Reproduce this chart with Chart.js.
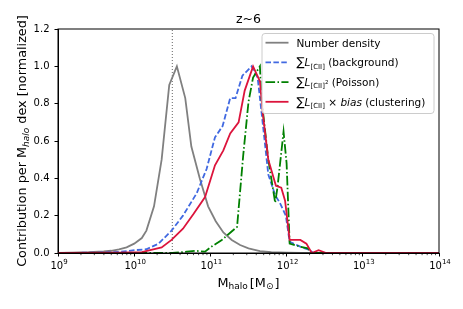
<!DOCTYPE html>
<html>
<head>
<meta charset="utf-8">
<script src="https://cdn.jsdelivr.net/npm/chart.js@4"></script>
<style>
  body { margin: 0; background: #fff; }
  canvas { display: block; }
</style>
</head>
<body>
<canvas id="chart" width="463" height="309"></canvas>
<script>
// ===== DATA (x = log10 Mhalo) =====
const numDensX = [9.0, 9.2, 9.4, 9.6, 9.7, 9.8, 9.9, 10.0, 10.1, 10.16, 10.26, 10.36, 10.46, 10.56, 10.67, 10.75, 10.86, 10.97, 11.07, 11.17, 11.28, 11.39, 11.5, 11.65, 11.8, 12.0, 12.2, 14.0];
const numDensY = [0.001, 0.002, 0.004, 0.008, 0.012, 0.02, 0.03, 0.05, 0.08, 0.12, 0.25, 0.5, 0.9, 1.0, 0.83, 0.57, 0.4, 0.25, 0.17, 0.11, 0.07, 0.043, 0.025, 0.01, 0.005, 0.002, 0, 0];

const bgX = [9.0, 9.5, 9.8, 10.03, 10.16, 10.32, 10.49, 10.64, 10.82, 10.95, 11.06, 11.16, 11.26, 11.33, 11.42, 11.54, 11.62, 11.68, 11.76, 11.85, 11.91, 11.99, 12.04, 12.18, 12.3, 12.35, 14.0];
const bgY = [0, 0.002, 0.006, 0.016, 0.02, 0.05, 0.12, 0.2, 0.32, 0.45, 0.62, 0.68, 0.83, 0.83, 0.95, 1.0, 0.94, 0.72, 0.42, 0.31, 0.27, 0.2, 0.06, 0.034, 0.016, 0, 0];

const poisX = [9.0, 10.5, 10.69, 10.8, 10.93, 11.0, 11.15, 11.35, 11.39, 11.43, 11.5, 11.56, 11.65, 11.67, 11.76, 11.85, 11.88, 11.96, 12.0, 12.04, 12.18, 12.28, 12.33, 14.0];
const poisY = [0, 0, 0.007, 0.012, 0.007, 0.03, 0.07, 0.14, 0.33, 0.52, 0.81, 0.94, 1.0, 0.83, 0.5, 0.27, 0.35, 0.65, 0.48, 0.05, 0.034, 0.025, 0, 0];

const clusX = [9.0, 9.8, 10.1, 10.36, 10.49, 10.64, 10.78, 10.93, 11.06, 11.17, 11.26, 11.37, 11.45, 11.56, 11.65, 11.69, 11.76, 11.86, 11.93, 11.98, 12.04, 12.18, 12.26, 12.33, 12.42, 12.52, 14.0];
const clusY = [0, 0.002, 0.005, 0.03, 0.07, 0.13, 0.21, 0.3, 0.47, 0.55, 0.64, 0.7, 0.87, 1.0, 0.92, 0.74, 0.5, 0.36, 0.35, 0.28, 0.07, 0.07, 0.05, 0, 0.015, 0, 0];

const xTicks = [9, 10, 11, 12, 13, 14];
const yTicks = [0, 0.2, 0.4, 0.6, 0.8, 1.0, 1.2];
const medianLogM = 10.5;

const FONT = "'DejaVu Sans', sans-serif";
const LW = 1.8;

const toPts = (xs, ys) => xs.map((x, i) => ({ x, y: ys[i] }));

// draw a run of text pieces (sub/superscripts, italics) starting at x
function richWidth(ctx, segs) {
  let w = 0;
  segs.forEach(s => {
    ctx.font = (s.italic ? 'italic ' : '') + s.size + 'px ' + FONT;
    w += ctx.measureText(s.t).width + (s.gap || 0);
  });
  return w;
}

function drawRich(ctx, x, y, segs, align) {
  let w = richWidth(ctx, segs);
  let cx = align === 'center' ? x - w / 2 : x;
  ctx.textBaseline = 'alphabetic';
  ctx.textAlign = 'left';
  segs.forEach(s => {
    ctx.font = (s.italic ? 'italic ' : '') + s.size + 'px ' + FONT;
    ctx.fillText(s.t, cx, y + (s.dy || 0));
    cx += ctx.measureText(s.t).width + (s.gap || 0);
  });
}

const extras = {
  id: 'extras',
  beforeDatasetsDraw(chart) {
    const { ctx, chartArea: a, scales: { x } } = chart;
    const px = x.getPixelForValue(medianLogM);
    ctx.save();
    ctx.strokeStyle = '#666';
    ctx.lineWidth = 1;
    ctx.setLineDash([1, 2]);
    ctx.beginPath();
    ctx.moveTo(px, a.bottom);
    ctx.lineTo(px, a.top);
    ctx.stroke();
    ctx.restore();
  },
  afterDatasetsDraw(chart) {
    const { ctx } = chart;
    // legend
    ctx.save();
    ctx.fillStyle = 'rgba(255,255,255,0.8)';
    ctx.strokeStyle = '#cccccc';
    ctx.lineWidth = 1;
    ctx.beginPath();
    ctx.roundRect(262, 33.5, 172, 80, 3);
    ctx.fill();
    ctx.stroke();

    const rows = [
      { color: '#808080', dash: [], y: 42.7,
        segs: [{ t: 'Number density', size: 10.5 }] },
      { color: '#4169E1', dash: [5.5, 2.4], y: 62.4,
        segs: [{ t: '∑', size: 12 }, { t: 'L', size: 10.5, italic: true },
               { t: '[CII]', size: 7, dy: 2.5 }, { t: ' (background)', size: 10.5 }] },
      { color: '#008000', dash: [9.6, 2.4, 1.5, 2.4], y: 82.1,
        segs: [{ t: '∑', size: 12 }, { t: 'L', size: 10.5, italic: true },
               { t: '[CII]', size: 7, dy: 2.5 }, { t: '2', size: 5.5, dy: -1.5 },
               { t: ' (Poisson)', size: 10.5 }] },
      { color: '#DC143C', dash: [], y: 101.8,
        segs: [{ t: '∑', size: 12 }, { t: 'L', size: 10.5, italic: true },
               { t: '[CII]', size: 7, dy: 2.5 }, { t: ' × ', size: 10.5 },
               { t: 'bias', size: 10.5, italic: true }, { t: ' (clustering)', size: 10.5 }] }
    ];
    rows.forEach(r => {
      ctx.strokeStyle = r.color;
      ctx.lineWidth = LW;
      ctx.setLineDash(r.dash);
      ctx.beginPath();
      ctx.moveTo(265.5, r.y);
      ctx.lineTo(288.5, r.y);
      ctx.stroke();
      ctx.setLineDash([]);
      ctx.fillStyle = '#000';
      drawRich(ctx, 296.5, r.y + 3.8, r.segs, 'left');
    });
    ctx.restore();
  },
  afterDraw(chart) {
    const { ctx, chartArea: a, scales: { x } } = chart;
    ctx.save();
    // top and right spines
    ctx.strokeStyle = '#000';
    ctx.lineWidth = 1;
    ctx.strokeRect(a.left, a.top, a.right - a.left, a.bottom - a.top);

    // minor log ticks on x
    ctx.lineWidth = 0.7;
    ctx.beginPath();
    for (let n = 9; n < 14; n++) {
      for (let k = 2; k <= 9; k++) {
        const px = x.getPixelForValue(n + Math.log10(k));
        ctx.moveTo(px, a.bottom);
        ctx.lineTo(px, a.bottom + 2.2);
      }
    }
    ctx.stroke();

    // x tick labels as 10^n
    ctx.fillStyle = '#000';
    xTicks.forEach(n => {
      const px = x.getPixelForValue(n);
      drawRich(ctx, px + 1, 268.5, [
        { t: '10', size: 10 },
        { t: String(n), size: 7, dy: -4.5 }
      ], 'center');
    });

    // title
    ctx.font = '12.5px ' + FONT;
    ctx.textAlign = 'center';
    ctx.textBaseline = 'alphabetic';
    ctx.fillText('z~6', (a.left + a.right) / 2, 22.7);

    // x axis label
    drawRich(ctx, 248.5, 286.8, [
      { t: 'M', size: 12.8 }, { t: 'halo', size: 9, dy: 2.5, gap: 2 },
      { t: '[M', size: 12.8 }, { t: '⊙', size: 9, dy: 2.5, gap: 1 }, { t: ']', size: 12.8 }
    ], 'center');

    // y axis label
    ctx.translate(26, (a.top + a.bottom) / 2);
    ctx.rotate(-Math.PI / 2);
    drawRich(ctx, 0, 0, [
      { t: 'Contribution per M', size: 12.8 },
      { t: 'halo', size: 9, italic: true, dy: 2.5 },
      { t: ' dex [normalized]', size: 12.8 }
    ], 'center');
    ctx.restore();
  }
};

const lineDs = (label, xs, ys, color, dash, order) => ({
  label,
  data: toPts(xs, ys),
  borderColor: color,
  borderWidth: LW,
  borderDash: dash,
  pointRadius: 0,
  tension: 0,
  fill: false,
  order
});

new Chart(document.getElementById('chart'), {
  type: 'line',
  data: {
    datasets: [
      lineDs('Number density', numDensX, numDensY, '#808080', [], 4),
      lineDs('background', bgX, bgY, '#4169E1', [5.5, 2.4], 3),
      lineDs('Poisson', poisX, poisY, '#008000', [9.6, 2.4, 1.5, 2.4], 2),
      lineDs('clustering', clusX, clusY, '#DC143C', [], 1)
    ]
  },
  options: {
    responsive: false,
    animation: false,
    layout: { padding: { left: 0, right: 24, top: 29, bottom: 0 } },
    plugins: {
      legend: { display: false },
      tooltip: { enabled: false }
    },
    scales: {
      x: {
        type: 'linear',
        min: 9,
        max: 14,
        afterBuildTicks: s => { s.ticks = xTicks.map(v => ({ value: v })); },
        afterFit: s => { s.height = 56; },
        grid: { drawOnChartArea: false, tickLength: 3.5, color: '#000' },
        border: { color: '#000' },
        ticks: { callback: () => '', font: { family: FONT, size: 10 } }
      },
      y: {
        min: 0,
        max: 1.2,
        afterBuildTicks: s => { s.ticks = yTicks.map(v => ({ value: v })); },
        afterFit: s => { s.width = 58; },
        grid: { drawOnChartArea: false, tickLength: 3.5, color: '#000' },
        border: { color: '#000' },
        ticks: {
          color: '#000',
          padding: 5,
          font: { family: FONT, size: 10 },
          callback: v => v.toFixed(1)
        }
      }
    }
  },
  plugins: [extras]
});
</script>
</body>
</html>
